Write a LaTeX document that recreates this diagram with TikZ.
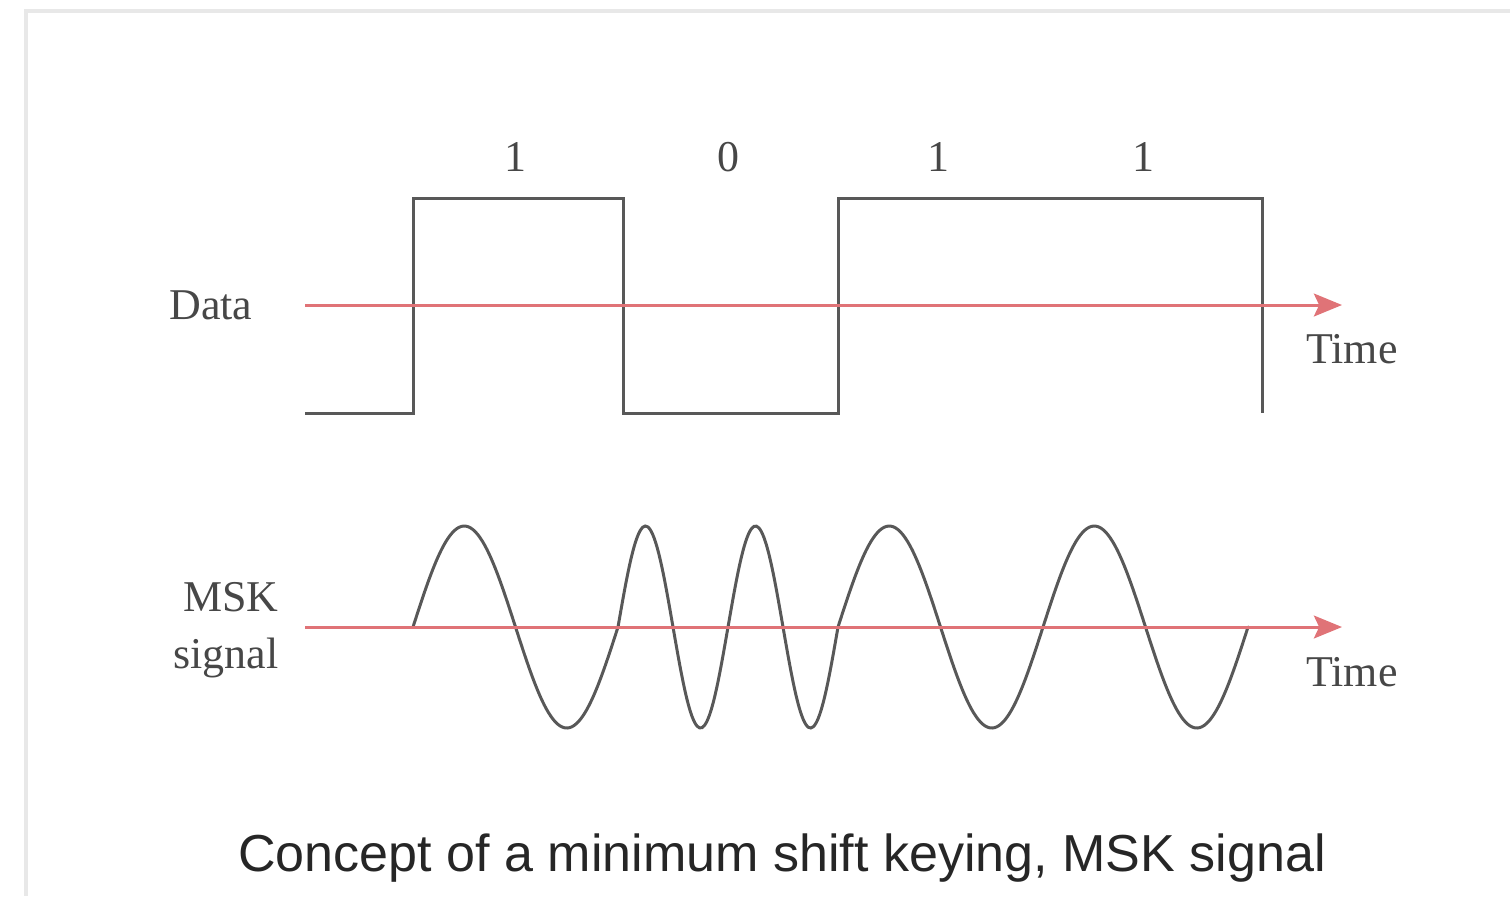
\documentclass[tikz,border=0pt]{standalone}
\usepackage{fontspec}
\setmainfont{Liberation Serif}
\newfontfamily\capfont{Liberation Sans}
\usetikzlibrary{arrows.meta}
\definecolor{wavegray}{HTML}{585858}
\definecolor{axisred}{HTML}{E07377}
\definecolor{framegray}{HTML}{E8E8E8}
\definecolor{textgray}{HTML}{474747}
\definecolor{capgray}{HTML}{262626}
\tikzset{
 wave/.style={draw=wavegray, line width=0.85pt, line cap=round},
 timeaxis/.style={draw=axisred, line width=0.85pt, -{Stealth[length=8pt,width=6.5pt,inset=1.5pt]}},
 lbl/.style={text=textgray, font=\fontsize{12.5}{15}\selectfont, inner sep=0pt}
}

\begin{document}
\begin{tikzpicture}[x=0.01cm,y=-0.01cm]
\useasboundingbox (0,0) rectangle (1510,896);
\draw[framegray, line width=0.9pt] (26,896) -- (26,11) -- (1510,11);
% data
\draw[wave, line join=miter, line cap=butt] (305,413) -| (413,198) -| (623,413) -| (838,198) -| (1262,413);
\foreach \x/\b [count=\i] in {515/1,728/0,938/1,1143/1}
 \node[lbl] (bit\i) at (\x,157) {\b};
\coordinate (d0) at (305,305);
\coordinate (d1) at (1342,305);
\draw[timeaxis] (d0) -- (d1);
\node[lbl] (datalbl) at (211,305) {Data};
\node[lbl] (time1) at (1352,349) {Time};
% msk
\foreach \a/\b/\n in {413/618/1,618/838/2,838/1043/1,1043/1248/1}
 \draw[wave] plot[domain=\a:\b, samples=90, smooth] (\x, {627-101*sin(360*\n*((\x-\a)/(\b-\a)))});
\coordinate (m0) at (305,627);
\coordinate (m1) at (1342,627);
\draw[timeaxis] (m0) -- (m1);
\node[lbl, anchor=base east] (msklbl) at (279,611) {MSK};
\node[lbl, anchor=base east] (siglbl) at (279,668) {signal};
\node[lbl] (time2) at (1352,672) {Time};
\node[text=capgray, font=\capfont\fontsize{14.8}{17}\selectfont, inner sep=0pt, anchor=base] (caption) at (782,871) {Concept of a minimum shift keying, MSK signal};
\end{tikzpicture}
\end{document}
